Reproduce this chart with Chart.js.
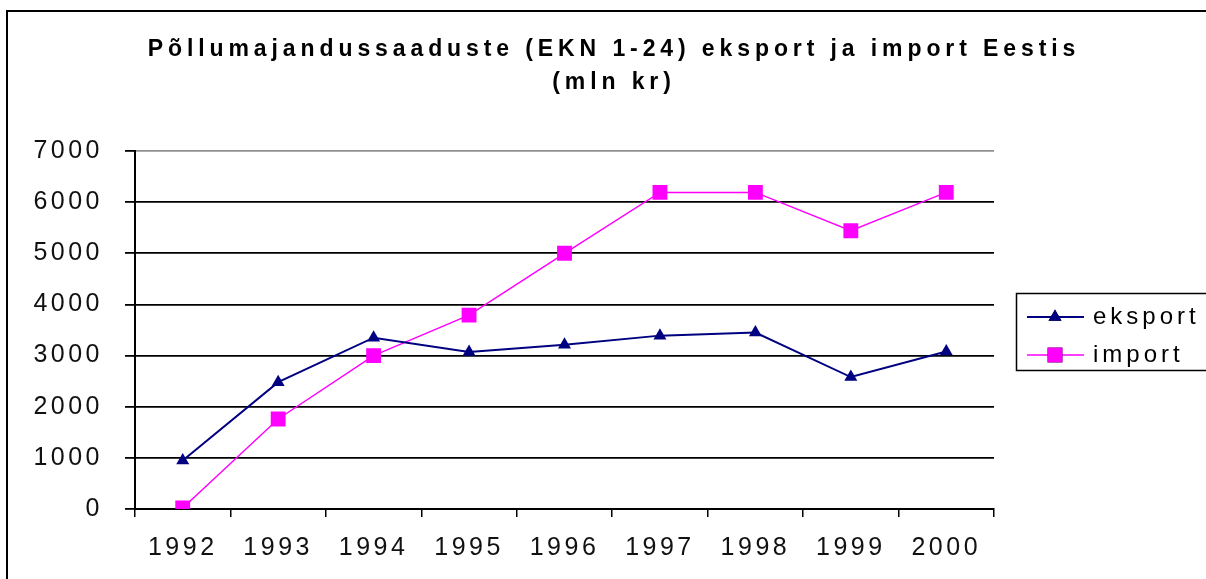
<!DOCTYPE html>
<html>
<head>
<meta charset="utf-8">
<title>Põllumajandussaaduste eksport ja import</title>
<script src="https://cdn.jsdelivr.net/npm/chart.js@4"></script>
<style>
    html, body { margin: 0; padding: 0; background: #fff; overflow: hidden; }
    canvas { display: block; }
</style>
</head>
<body>
<canvas id="chart" width="1206" height="579"></canvas>
<script>
// Chart data
const years = ['1992', '1993', '1994', '1995', '1996', '1997', '1998', '1999', '2000'];
const eksport = [950, 2480, 3350, 3070, 3210, 3390, 3450, 2580, 3080];
const importValues = [20, 1760, 3000, 3790, 5000, 6190, 6190, 5440, 6190];
const yTicks = [0, 1000, 2000, 3000, 4000, 5000, 6000, 7000];
const titleLines = ['Põllumajandussaaduste (EKN 1-24) eksport ja import Eestis', '(mln kr)'];

const tickFont = '"Liberation Sans", Arial, sans-serif';

// letter spacing like the old Excel bitmap text
const spacingPlugin = {
    id: 'spacing',
    beforeUpdate(chart) { chart.ctx.letterSpacing = '3.5px'; },
    beforeDraw(chart) { chart.ctx.letterSpacing = '3.5px'; }
};

// outer frame, title and legend
const decorPlugin = {
    id: 'decor',
    beforeDraw(chart) {
        const ctx = chart.ctx;
        ctx.save();
        ctx.strokeStyle = '#000';
        ctx.lineWidth = 2;
        ctx.beginPath();
        ctx.moveTo(7, 600);
        ctx.lineTo(7, 11);
        ctx.lineTo(1210, 11);
        ctx.stroke();

        ctx.fillStyle = '#000';
        ctx.font = 'bold 23px ' + tickFont;
        ctx.letterSpacing = '4.9px';
        ctx.textAlign = 'center';
        ctx.textBaseline = 'alphabetic';
        ctx.fillText(titleLines[0], 614, 56);
        ctx.fillText(titleLines[1], 614, 89);
        ctx.restore();
    },
    afterDraw(chart) {
        const ctx = chart.ctx;
        ctx.save();
        ctx.strokeStyle = '#000';
        ctx.lineWidth = 1.5;
        ctx.strokeRect(1016.5, 293.5, 300, 77);

        const rows = [317, 355];
        chart.data.datasets.forEach((ds, i) => {
            const y = rows[i];
            ctx.strokeStyle = ds.borderColor;
            ctx.lineWidth = ds.borderWidth;
            ctx.beginPath();
            ctx.moveTo(1027, y);
            ctx.lineTo(1084, y);
            ctx.stroke();
            Chart.helpers.drawPoint(ctx, {
                pointStyle: ds.pointStyle,
                radius: ds.pointRadius,
                borderWidth: 0
            }, 1055, y);
            ctx.fillStyle = ds.pointBackgroundColor;
            ctx.fill();

            ctx.fillStyle = '#000';
            ctx.font = '24px ' + tickFont;
            ctx.letterSpacing = '4px';
            ctx.textAlign = 'left';
            ctx.textBaseline = 'middle';
            ctx.fillText(ds.label, 1093, y);
        });
        ctx.restore();
    }
};

new Chart(document.getElementById('chart'), {
    type: 'line',
    data: {
        labels: years,
        datasets: [{
            label: 'eksport',
            data: eksport,
            borderColor: '#000080',
            backgroundColor: '#000080',
            pointBackgroundColor: '#000080',
            pointBorderColor: '#000080',
            borderWidth: 2,
            pointStyle: 'triangle',
            pointRadius: 7.5,
            pointBorderWidth: 0,
            tension: 0
        }, {
            label: 'import',
            data: importValues,
            borderColor: '#ff00ff',
            backgroundColor: '#ff00ff',
            pointBackgroundColor: '#ff00ff',
            pointBorderColor: '#ff00ff',
            borderWidth: 1.5,
            pointStyle: 'rect',
            pointRadius: 10.5,
            pointBorderWidth: 0,
            tension: 0
        }]
    },
    options: {
        responsive: false,
        animation: false,
        layout: {
            padding: { top: 151, right: 212, bottom: 0, left: 0 }
        },
        plugins: {
            legend: { display: false },
            title: { display: false },
            tooltip: { enabled: false }
        },
        scales: {
            x: {
                offset: true,
                afterFit(scale) { scale.height = 70; },
                grid: {
                    offset: true,
                    drawOnChartArea: true,
                    color: (c) => c.index === years.length ? '#808080' : 'rgba(0,0,0,0)',
                    tickColor: '#000',
                    tickLength: 8,
                    lineWidth: 1.5
                },
                border: { display: true, color: '#000', width: 2 },
                ticks: {
                    color: '#111',
                    padding: 16,
                    maxRotation: 0,
                    font: { family: tickFont, size: 25 }
                }
            },
            y: {
                min: 0,
                max: 7000,
                afterFit(scale) { scale.width = 135; },
                afterBuildTicks(scale) { scale.ticks = yTicks.map(v => ({ value: v })); },
                grid: {
                    color: (c) => c.tick && c.tick.value === 7000 ? '#909090' : '#000',
                    tickColor: '#000',
                    tickLength: 10,
                    lineWidth: 1.8
                },
                border: { display: true, color: '#000', width: 2 },
                ticks: {
                    color: '#111',
                    padding: 22,
                    font: { family: tickFont, size: 25 },
                    callback: (value) => String(value)
                }
            }
        }
    },
    plugins: [spacingPlugin, decorPlugin]
});
</script>
</body>
</html>
